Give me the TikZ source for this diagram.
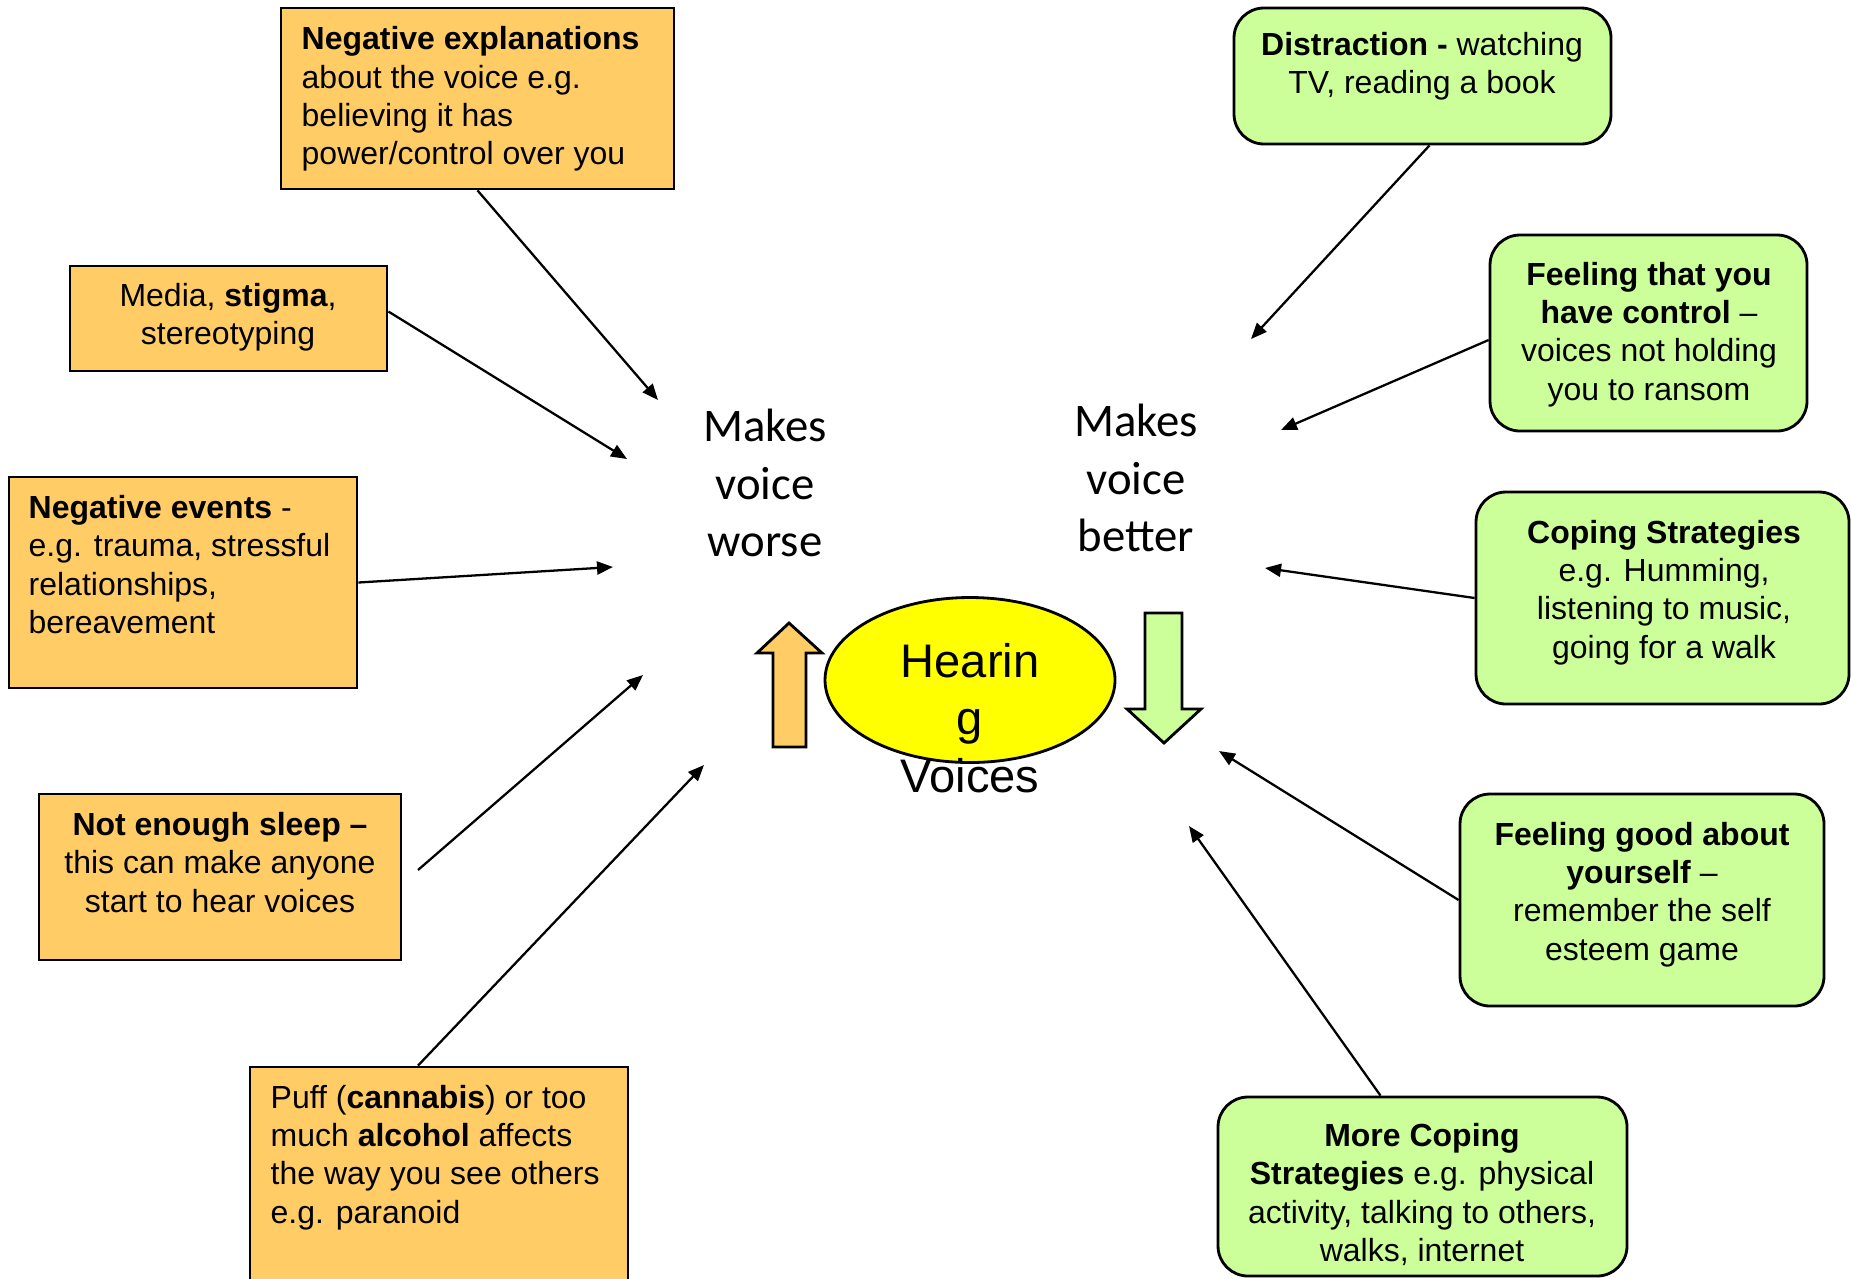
\documentclass[tikz,border=0pt]{standalone}
\usepackage{fontspec}
\setmainfont{Liberation Sans}
\newfontfamily\calibri{Carlito}
\usetikzlibrary{arrows.meta,shapes.geometric}
\definecolor{worse}{HTML}{FFCC66}
\definecolor{better}{HTML}{CCFF99}
\definecolor{hvyellow}{HTML}{FFFF00}

\tikzset{
  worsebox/.style={draw,line width=.8pt,fill=worse,inner sep=0pt},
  betterbox/.style={draw,line width=.8pt,fill=better,rounded corners=3mm,inner sep=0pt},
  boxtext/.style={font=\fontsize{9.1}{10.9}\selectfont,inner sep=0pt},
  bigtext/.style={font=\fontsize{13.4}{16.4}\selectfont,align=center,inner sep=0pt},
  link/.style={-{Triangle[length=1.6mm,width=1.3mm]},line width=.65pt},
}

\begin{document}
\begin{tikzpicture}
\useasboundingbox (0,0) rectangle (18.51,-12.78);

% things that make the voice worse
\node[worsebox,minimum width=3.93cm,minimum height=1.81cm] (negexp) at (4.775,-0.985) {};
\node[boxtext,align=left,anchor=west] (negexp-t) at (3.01,-0.99) {\textbf{Negative explanations}\\about the voice e.g.\\believing it has\\power/control over you};
\node[worsebox,minimum width=3.17cm,minimum height=1.05cm] (media) at (2.285,-3.185) {};
\node[boxtext,align=center] (media-t) at (2.28,-3.175) {Media, \textbf{stigma},\\stereotyping};
\node[worsebox,minimum width=3.48cm,minimum height=2.11cm] (events) at (1.83,-5.825) {};
\node[boxtext,align=left,anchor=west] (events-t) at (0.28,-5.645) {\textbf{Negative events} -\\e.g. trauma, stressful\\relationships,\\bereavement};
\node[worsebox,minimum width=3.62cm,minimum height=1.66cm] (sleep) at (2.20,-8.77) {};
\node[boxtext,align=center] (sleep-t) at (2.20,-8.625) {\textbf{Not enough sleep –}\\this can make anyone\\start to hear voices};
\node[worsebox,minimum width=3.78cm,minimum height=2.3cm] (puff) at (4.39,-11.82) {};
\node[boxtext,align=left,anchor=west] (puff-t) at (2.70,-11.575) {Puff (\textbf{cannabis}) or too\\much \textbf{alcohol} affects\\the way you see others\\e.g. paranoid};

% things that make the voice better
\node[betterbox,minimum width=3.77cm,minimum height=1.36cm] (distract) at (14.225,-0.76) {};
\node[boxtext,align=center] (distract-t) at (14.22,-0.665) {\textbf{Distraction -} watching\\TV, reading a book};
\node[betterbox,minimum width=3.17cm,minimum height=1.96cm] (control) at (16.485,-3.33) {};
\node[boxtext,align=center] (control-t) at (16.49,-3.345) {\textbf{Feeling that you}\\\textbf{have control} –\\voices not holding\\you to ransom};
\node[betterbox,minimum width=3.73cm,minimum height=2.12cm] (coping) at (16.625,-5.98) {};
\node[boxtext,align=center] (coping-t) at (16.64,-5.925) {\textbf{Coping Strategies}\\e.g. Humming,\\listening to music,\\going for a walk};
\node[betterbox,minimum width=3.64cm,minimum height=2.12cm] (selfest) at (16.42,-9.00) {};
\node[boxtext,align=center] (selfest-t) at (16.42,-8.945) {\textbf{Feeling good about}\\\textbf{yourself} –\\remember the self\\esteem game};
\node[betterbox,minimum width=4.09cm,minimum height=1.79cm] (more) at (14.225,-11.865) {};
\node[boxtext,align=center] (more-t) at (14.22,-11.945) {\textbf{More Coping}\\\textbf{Strategies} e.g. physical\\activity, talking to others,\\walks, internet};

% centre
\node[bigtext,font=\calibri\fontsize{13.3}{16.4}\selectfont] (worse-t) at (7.65,-4.83) {Makes\\voice\\worse};
\node[bigtext,font=\calibri\fontsize{13.3}{16.4}\selectfont] (better-t) at (11.36,-4.78) {Makes\\voice\\better};
\node[draw,ellipse,fill=hvyellow,line width=.8pt,minimum width=2.90cm,minimum height=1.65cm] (hv) at (9.70,-6.80) {};
\node[bigtext] (hv-t) at (9.70,-7.18) {Hearin\\g\\Voices};
\draw[line width=.8pt,fill=worse] (7.73,-7.47) -- (7.73,-6.53) -- (7.57,-6.53) -- (7.89,-6.23)
  -- (8.22,-6.53) -- (8.06,-6.53) -- (8.06,-7.47) -- cycle;
\draw[line width=.8pt,fill=better] (11.45,-6.13) -- (11.82,-6.13) -- (11.82,-7.09) -- (12.01,-7.09)
  -- (11.64,-7.43) -- (11.27,-7.09) -- (11.45,-7.09) -- cycle;

% arrow ends
\coordinate (a1) at (6.58,-4.00);
\coordinate (a2) at (6.27,-4.59);
\coordinate (a3) at (6.13,-5.67);
\coordinate (a4) at (6.43,-6.75);
\coordinate (a5) at (7.04,-7.65);
\coordinate (b1) at (12.51,-3.39);
\coordinate (b2) at (12.81,-4.30);
\coordinate (b3) at (12.65,-5.68);
\coordinate (b4) at (12.19,-7.51);
\coordinate (b5) at (11.89,-8.26);
\coordinate (s4) at (4.18,-8.70);

\draw[link] (negexp.south) -- (a1);
\draw[link] ([yshift=.07cm]media.east) -- (a2);
\draw[link] (events.east) -- (a3);
\draw[link] (s4) -- (a4);
\draw[link] ([xshift=-.21cm]puff.north) -- (a5);
\draw[link] ([xshift=.07cm]distract.south) -- (b1);
\draw[link] ([yshift=-.07cm]control.west) -- (b2);
\draw[link] (coping.west) -- (b3);
\draw[link] (selfest.west) -- (b4);
\draw[link] ([xshift=-.42cm]more.north) -- (b5);
\end{tikzpicture}
\end{document}
